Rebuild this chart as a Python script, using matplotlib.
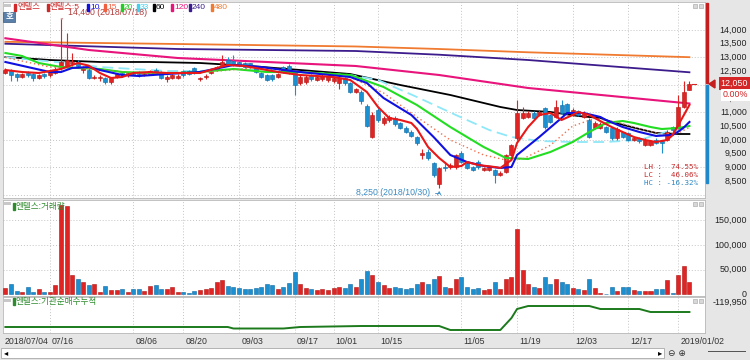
import matplotlib
matplotlib.use('Agg')
import matplotlib.pyplot as plt
import matplotlib.transforms as mtrans
from matplotlib.patches import Rectangle, Polygon

plt.rcParams['font.family'] = ['Liberation Sans', 'Noto Sans CJK KR', 'DejaVu Sans']

# ---- data (엔텔스 일봉, 2018/07/04 ~ 2019/01/04) ----
opens = [12450, 12550, 12400, 12300, 12420, 12400, 12250, 12400, 12350, 12450,
         12600, 12700, 12800, 12850, 12550, 12550, 12250, 12250, 12250, 12100,
         12300, 12450, 12350, 12450, 12450, 12380, 12400, 12550, 12480, 12200,
         12250, 12250, 12500, 12500, 12600, 12200, 12280, 12430, 12540, 12720,
         12900, 12880, 12830, 12780, 12780, 12600, 12430, 12360, 12350, 12300,
         12650, 12700, 12430, 12070, 12100, 12350, 12180, 12200, 12180, 12130,
         12070, 12250, 12070, 11750, 11750, 11250, 10100, 11100, 10620, 10720,
         10780, 10600, 10430, 10300, 10100, 9450, 9560, 9150, 8400, 9010,
         9020, 9010, 9520, 9150, 9010, 9190, 8900, 8900, 8900, 8720,
         8830, 9450, 10070, 10800, 10830, 10980, 10900, 11150, 10900, 10830,
         11270, 11300, 10900, 11050, 10830, 10720, 10430, 10430, 10470, 10430,
         10060, 10280, 10250, 9990, 10060, 9810, 9810, 9990, 9950, 9990,
         10470, 10430, 11200, 11820]
highs = [12600, 12580, 12450, 12450, 12500, 12450, 12400, 12450, 12550, 12650,
         14400, 13900, 13150, 12900, 12700, 12600, 12350, 12350, 12300, 12300,
         12450, 12500, 12480, 12500, 12500, 12480, 12550, 12600, 12500, 12350,
         12400, 12380, 12550, 12550, 12650, 12300, 12380, 12550, 12700, 13100,
         13000, 13100, 12900, 12850, 12800, 12650, 12480, 12400, 12400, 12450,
         12700, 12750, 12450, 12350, 12350, 12400, 12350, 12400, 12350, 12300,
         12300, 12300, 12100, 11900, 11800, 11300, 11000, 11200, 10850, 10900,
         10850, 10650, 10500, 10350, 10150, 9650, 9650, 9200, 9020, 9200,
         9150, 9500, 9600, 9200, 9050, 9250, 9000, 9050, 8950, 8850,
         9500, 9850, 11450, 11200, 11050, 11050, 11100, 11200, 10950, 11450,
         11450, 11350, 11150, 11100, 11050, 10800, 10700, 10650, 10500, 10450,
         10450, 10300, 10280, 10100, 10100, 10050, 10000, 10050, 10000, 10350,
         10500, 11630, 12150, 12150]
lows = [12400, 12150, 12150, 12250, 12300, 12150, 12200, 12250, 12300, 12400,
        12550, 12650, 12700, 12600, 12450, 12200, 12200, 12150, 12050, 12050,
        12250, 12300, 12300, 12350, 12300, 12330, 12350, 12450, 12200, 12100,
        12200, 12200, 12300, 12350, 12400, 12150, 12230, 12400, 12500, 12680,
        12700, 12700, 12700, 12620, 12600, 12450, 12250, 12150, 12150, 12250,
        12420, 12400, 11630, 12000, 12050, 12150, 12150, 12150, 12100, 12080,
        11850, 12000, 11700, 11700, 11300, 10450, 10050, 10650, 10550, 10650,
        10500, 10400, 10250, 10100, 9800, 9300, 9250, 8650, 8250, 8850,
        8950, 8950, 9150, 8950, 8850, 8950, 8850, 8850, 8430, 8680,
        8800, 9400, 10000, 10750, 10780, 10750, 10850, 10400, 10600, 10800,
        10950, 10950, 10850, 10850, 10800, 10050, 10400, 10400, 10250, 10000,
        10000, 10050, 9950, 9950, 9900, 9780, 9780, 9850, 9520, 9950,
        10300, 10400, 11150, 11800]
closes = [12550, 12350, 12300, 12400, 12350, 12250, 12350, 12330, 12480, 12550,
          12850, 12900, 12850, 12700, 12620, 12250, 12300, 12300, 12100, 12250,
          12400, 12400, 12420, 12380, 12380, 12430, 12500, 12480, 12250, 12300,
          12350, 12320, 12360, 12400, 12430, 12260, 12330, 12500, 12650, 12830,
          12720, 12750, 12720, 12650, 12650, 12480, 12300, 12180, 12200, 12400,
          12470, 12470, 12000, 12290, 12290, 12200, 12290, 12340, 12310, 12270,
          12250, 12070, 11740, 11850, 11400, 10500, 10900, 10720, 10800, 10830,
          10560, 10430, 10300, 10150, 9880, 9520, 9340, 8720, 8980, 8970,
          9080, 9450, 9190, 8970, 8900, 9010, 8970, 9010, 8720, 8790,
          9450, 9810, 10980, 10980, 10980, 10800, 11010, 10470, 10650, 11190,
          10980, 10980, 11090, 10900, 10980, 10100, 10610, 10570, 10280, 10060,
          10400, 10100, 9990, 10060, 9950, 9990, 9950, 9880, 9880, 10280,
          10360, 11190, 11740, 12050]
volumes = [12, 21, 7, 4, 14, 4, 10, 5, 5, 18, 181, 178, 40, 31, 24, 19, 21, 5, 17, 9,
           9, 11, 5, 10, 10, 7, 16, 18, 11, 10, 15, 5, 5, 3, 7, 9, 11, 13, 24, 28,
           16, 15, 12, 11, 10, 12, 15, 20, 18, 10, 15, 22, 45, 20, 12, 10, 8, 10, 9, 12,
           15, 12, 20, 15, 30, 48, 40, 25, 18, 12, 15, 12, 10, 12, 20, 25, 20, 30, 38, 15,
           12, 30, 35, 15, 10, 12, 8, 10, 25, 10, 30, 35, 133, 50, 20, 15, 12, 35, 20, 30,
           25, 20, 12, 10, 8, 30, 12, 2, 1.5, 15, 7, 15, 15, 9, 6, 6, 6, 10, 10, 28,
           2, 40, 58, 25]  # 천주

# 이동평균선 (그림에서 읽은 값: 봉 번호, 가격)
ma5_x = [0, 3, 6, 10, 13, 15, 17, 19, 21, 23, 26, 29, 35, 38, 40, 43, 46, 49, 53, 59,
         62, 65, 67, 69, 71, 73, 74, 76, 78, 80, 82, 83, 85, 88, 89, 91, 92, 94, 96, 98,
         100, 102, 103, 105, 107, 109, 111, 113, 115, 117, 119, 120, 121, 122, 123]
ma5_v = [12543, 12470, 12434, 12580, 12798, 12700, 12434, 12252, 12288, 12434, 12470, 12434,
         12434, 12616, 12725, 12689, 12580, 12470, 12361, 12288, 12179, 11742, 11196, 10795,
         10722, 10613, 10400, 9739, 9338, 9010, 9047, 9192, 9083, 9010, 8974, 9265, 9884,
         10467, 10904, 10977, 10722, 10904, 11014, 10904, 10680, 10467, 10285, 10103, 9994,
         9921, 9994, 10176, 10540, 10904, 11270]
ma10_x = [0, 4, 8, 10, 12, 15, 17, 21, 24, 29, 35, 41, 46, 50, 53, 62, 65, 68, 73, 77,
          80, 83, 86, 89, 91, 92, 96, 100, 101, 104, 107, 108, 111, 114, 117, 120, 121, 122, 123]
ma10_v = [12835, 12652, 12470, 12470, 12616, 12652, 12543, 12361, 12325, 12397, 12470, 12725,
          12652, 12543, 12470, 12288, 12070, 11523, 10904, 10103, 9448, 9192, 9047, 8974,
          9010, 9448, 10103, 10795, 10977, 10977, 10831, 10722, 10467, 10285, 10140, 10180,
          10300, 10450, 10650]
ma15_x = [0, 8, 15, 25, 35, 45, 55, 62, 68, 74, 80, 86, 90, 93, 98, 102, 106, 110, 114,
          118, 121, 123]
ma15_v = [13000, 12650, 12600, 12400, 12450, 12620, 12450, 12288, 11706, 10831, 9994, 9448,
          9265, 9300, 9800, 10500, 10780, 10650, 10400, 10200, 10250, 10450]
ma20_x = [0, 3, 6, 10, 13, 17, 21, 26, 31, 35, 41, 47, 53, 62, 68, 74, 80, 86, 90, 94,
          98, 102, 105, 108, 111, 113, 116, 118, 121, 123]
ma20_v = [13162, 13053, 12798, 12652, 12616, 12580, 12470, 12434, 12434, 12470, 12580, 12470,
          12470, 12361, 11924, 11268, 10467, 9739, 9338, 9302, 9557, 9921, 10285, 10613,
          10686, 10613, 10467, 10394, 10431, 10504]
ma33_x = [0, 5, 11, 17, 23, 29, 35, 41, 47, 53, 62, 67, 74, 81, 87, 91, 96, 102, 108,
          114, 119, 123]
ma33_v = [13017, 12907, 12798, 12652, 12580, 12507, 12507, 12580, 12543, 12470, 12361, 12179,
          11560, 10904, 10358, 10103, 9957, 9921, 9921, 9994, 10300, 10420]
ma60_x = [0, 8, 17, 26, 35, 44, 53, 62, 71, 80, 89, 92, 98, 103, 107, 109, 114, 117, 121, 123]
ma60_v = [13017, 12907, 12835, 12835, 12798, 12689, 12543, 12397, 11997, 11633, 11196, 11086,
          11014, 10868, 10795, 10650, 10394, 10249, 10212, 10212]
ma120_x = [0, 15, 31, 47, 63, 78, 94, 109, 123]
ma120_v = [13700, 13272, 12980, 12835, 12689, 12361, 11888, 11596, 11323]
ma240_x = [0, 31, 63, 78, 94, 123]
ma240_v = [13500, 13308, 13235, 13100, 12907, 12460]
ma480_x = [0, 31, 63, 78, 94, 123]
ma480_v = [13570, 13490, 13400, 13308, 13188, 13010]

# 기관순매수누적
inst_x = [0, 40, 41, 50, 53, 64, 78, 80, 89, 91, 92, 94, 105, 107, 114, 116, 123]
inst_v = [-370000, -370000, -385000, -385000, -370000, -360000, -360000, -400000, -400000,
          -280000, -190000, -160000, -160000, -190000, -190000, -220000, -220000]

tick_idx = [0, 8, 23, 32, 42, 52, 59, 67, 82, 92, 102, 112, 121]
tick_lab = ['2018/07/04', '07/16', '08/06', '08/20', '09/03', '09/17', '10/01', '10/15',
            '11/05', '11/19', '12/03', '12/17', '2019/01/02']
price_ticks = [14000, 13500, 13000, 12500, 12000, 11500, 11000, 10500, 10000, 9500, 9000, 8500]
vol_ticks = [150000, 100000, 50000, 0]

# ---- figure ----
W, H = 750, 360
RED, RED_E = '#e02424', '#b01414'
BLUE, BLUE_E = '#1c8fd0', '#0c6aa4'
GRID = '#c4c4c4'

fig = plt.figure(figsize=(7.5, 3.6), dpi=100, facecolor='#e6e6e6')


def px_axes(l, t, r, b):
    a = fig.add_axes([l / W, 1 - b / H, (r - l) / W, (b - t) / H])
    a.set_facecolor('white')
    for s in a.spines.values():
        s.set_color('#b8b8b8')
        s.set_linewidth(0.6)
    a.tick_params(length=0, labelbottom=False, labelleft=False)
    a.set_xlim(-0.43, 125.8)
    a.set_xticks(tick_idx[1:])
    a.grid(True, axis='x', linestyle=(0, (1, 2)), color=GRID, lw=0.7)
    return a


def fx(x):
    return x / W


def fy(y):
    return 1 - y / H


n = len(closes)
idx = list(range(n))
up = [c >= o for o, c in zip(opens, closes)]
fcol = [RED if u else BLUE for u in up]
ecol = [RED_E if u else BLUE_E for u in up]

# main price panel
ax1 = px_axes(3, 2, 705, 198)
ax1.set_ylim(7881, 15020)
ax1.set_yticks([8000, 9000, 10000, 11000, 12000, 13000, 14000])
ax1.grid(True, axis='y', linestyle=(0, (1, 2)), color=GRID, lw=0.7)

ax1.plot(ma480_x, ma480_v, color='#f07a30', lw=1.3, zorder=2)
ax1.plot(ma240_x, ma240_v, color='#3c1c8c', lw=1.3, zorder=2)
ax1.plot(ma120_x, ma120_v, color='#e8147c', lw=1.5, zorder=2)
ax1.plot(ma60_x, ma60_v, color='black', lw=1.3, zorder=2)
ax1.plot(ma33_x, ma33_v, color='#8ee8f8', lw=1.3, dashes=(6, 3), zorder=2)

ax1.vlines(idx, lows, highs, colors=fcol, lw=0.8, zorder=3)
body_lo = [min(o, c) for o, c in zip(opens, closes)]
body_h = [max(abs(c - o), 20) for o, c in zip(opens, closes)]
ax1.bar(idx, body_h, bottom=body_lo, width=0.72, color=fcol, edgecolor=ecol, lw=0.4, zorder=4)

ax1.plot(ma20_x, ma20_v, color='#22dd22', lw=1.5, zorder=5)
ax1.plot(ma15_x, ma15_v, color='#f07050', lw=1.0, linestyle=(0, (1, 2)), zorder=5)
ax1.plot(ma10_x, ma10_v, color='#1010e0', lw=1.5, zorder=5)
ax1.plot(ma5_x, ma5_v, color='#e81818', lw=1.5, zorder=6)

# legend (top)
leg = [('엔텔스', '#d02828', 14), ('엔텔스:5', '#d02828', 47), ('10', '#1010e0', 87),
       ('15', '#f06040', 104), ('20', '#22cc22', 121), ('33', '#40d0f0', 137),
       ('60', 'black', 153), ('120', '#e8147c', 171), ('240', '#3c1c8c', 189),
       ('480', '#f07a30', 211)]
for lab, col, x in leg:
    fig.add_artist(Rectangle((fx(x), fy(11)), 2 / W, 7 / H, color=col, transform=fig.transFigure))
    fig.text(fx(x + 3), fy(7.5), lab, color=col, fontsize=6.0, va='center', ha='left')

ax1.annotate('14,400 (2018/07/18)', xy=(10, 14400), xytext=(11.3, 14620),
             fontsize=6.3, color='#b03c3c', va='center', ha='left',
             arrowprops=dict(arrowstyle='-', color='#b03c3c', lw=0.6))
ax1.annotate('8,250 (2018/10/30)', xy=(78, 8250), xytext=(76.3, 8070),
             fontsize=6.3, color='#3a8cc4', va='center', ha='right',
             arrowprops=dict(arrowstyle='->', color='#3a8cc4', lw=0.6,
                             connectionstyle='angle,angleA=0,angleB=90,rad=0'))

fig.text(fx(698), fy(167), 'LH :  74.55%', color='#c82828', fontsize=5.4,
         family='DejaVu Sans Mono', ha='right', va='center')
fig.text(fx(698), fy(175), 'LC :  46.06%', color='#c82828', fontsize=5.4,
         family='DejaVu Sans Mono', ha='right', va='center')
fig.text(fx(698), fy(183), 'HC : -16.32%', color='#2a86c4', fontsize=5.4,
         family='DejaVu Sans Mono', ha='right', va='center')

tr1 = mtrans.blended_transform_factory(fig.transFigure, ax1.transData)
for p in price_ticks:
    ax1.text(fx(747), p, f'{p:,}', transform=tr1, ha='right', va='center', fontsize=6.4, color='#222222')
ax1.text(fx(748), closes[-1], f'{closes[-1]:,}', transform=tr1, ha='right', va='center', fontsize=6.4,
         color='white', bbox=dict(boxstyle='square,pad=0.18', fc='#d42626', ec='none'), zorder=10)
ax1.text(fx(748), 11633, '0.00%', transform=tr1, ha='right', va='center', fontsize=6.4,
         color='#d42626', bbox=dict(boxstyle='square,pad=0.18', fc='white', ec='none'), zorder=10)
ax1.plot([123.5, 124.2], [closes[-1], closes[-1]], color='#d42626', lw=0.8)

# side bars and marker
fig.add_artist(Rectangle((fx(705.5), fy(83)), 2.2 / W, 80 / H, color='#c41e1e', transform=fig.transFigure))
fig.add_artist(Rectangle((fx(705.5), fy(183)), 2.2 / W, 98 / H, color='#1e88c8', transform=fig.transFigure))
fig.add_artist(Polygon([(fx(709), fy(84)), (fx(715), fy(80)), (fx(715), fy(88))],
                       closed=True, color='#c41e1e', transform=fig.transFigure))

# volume panel
ax2 = px_axes(3, 200, 705, 296)
vol = [v * 1000 for v in volumes]
ax2.set_ylim(-3400, 190900)
ax2.set_yticks([50000, 100000, 150000])
ax2.grid(True, axis='y', linestyle=(0, (1, 2)), color=GRID, lw=0.7)
ax2.bar(idx, vol, width=0.72, color=fcol, edgecolor=ecol, lw=0.4, zorder=3)
tr2 = mtrans.blended_transform_factory(fig.transFigure, ax2.transData)
for v in vol_ticks:
    ax2.text(fx(747), v, f'{v:,}', transform=tr2, ha='right', va='center', fontsize=6.4, color='#222222')
fig.add_artist(Rectangle((fx(13), fy(210)), 2 / W, 7 / H, color='#2e8b2e', transform=fig.transFigure))
fig.text(fx(16), fy(206.5), '엔텔스:거래량', color='#2e8b2e', fontsize=6.2, va='center')

# institution cumulative panel
ax3 = px_axes(3, 297, 705, 333)
ax3.set_ylim(-429950, -69950)
ax3.plot(inst_x, inst_v, color='#1c7a1c', lw=1.4)
fig.add_artist(Rectangle((fx(13), fy(305)), 2 / W, 7 / H, color='#2e8b2e', transform=fig.transFigure))
fig.text(fx(16), fy(301.5), '엔텔스:기관순매수누적', color='#2e8b2e', fontsize=6.2, va='center')
fig.text(fx(747), fy(302), '-119,950', ha='right', va='center', fontsize=6.4, color='#222222')

# date labels
trd = mtrans.blended_transform_factory(ax3.transData, fig.transFigure)
for i, lab in zip(tick_idx, tick_lab):
    off = -0.2 if i == 0 else 0.4
    ax3.text(i + off, fy(341), lab, transform=trd, ha='left', va='center', fontsize=6.3,
             color='#333333', clip_on=False)

# window chrome
for top in (2, 200, 297):
    for x0 in (693, 699):
        fig.add_artist(Rectangle((fx(x0), fy(top + 6)), 4 / W, 4 / H, fc='#d8d8d8', ec='#a0a0a0',
                                 lw=0.4, transform=fig.transFigure))
    fig.add_artist(Rectangle((fx(4), fy(top + 5)), 7 / W, 3 / H, fc='#c8c8c8', ec='none',
                             transform=fig.transFigure))
fig.add_artist(Rectangle((fx(3), fy(22)), 12 / W, 10 / H, fc='#5a80aa', ec='#3a5a80', lw=0.5,
                         transform=fig.transFigure))
fig.text(fx(9), fy(17), '호', color='white', fontsize=6, ha='center', va='center', weight='bold')

fig.add_artist(Rectangle((fx(1), fy(358)), 663 / W, 10 / H, fc='white', ec='#a8a8a8', lw=0.6,
                         transform=fig.transFigure))
fig.text(fx(4), fy(353), '◂', fontsize=6, va='center', family='DejaVu Sans')
fig.text(fx(658), fy(353), '▸', fontsize=6, va='center', family='DejaVu Sans')
fig.text(fx(668), fy(353), '⊖ ⊕', fontsize=6.5, va='center', family='DejaVu Sans', color='#333333')
fig.add_artist(Rectangle((fx(708), fy(352)), 38 / W, 0.8 / H, fc='#555555', ec='none',
                         transform=fig.transFigure))

fig.savefig('out.png', dpi=100, facecolor=fig.get_facecolor())
